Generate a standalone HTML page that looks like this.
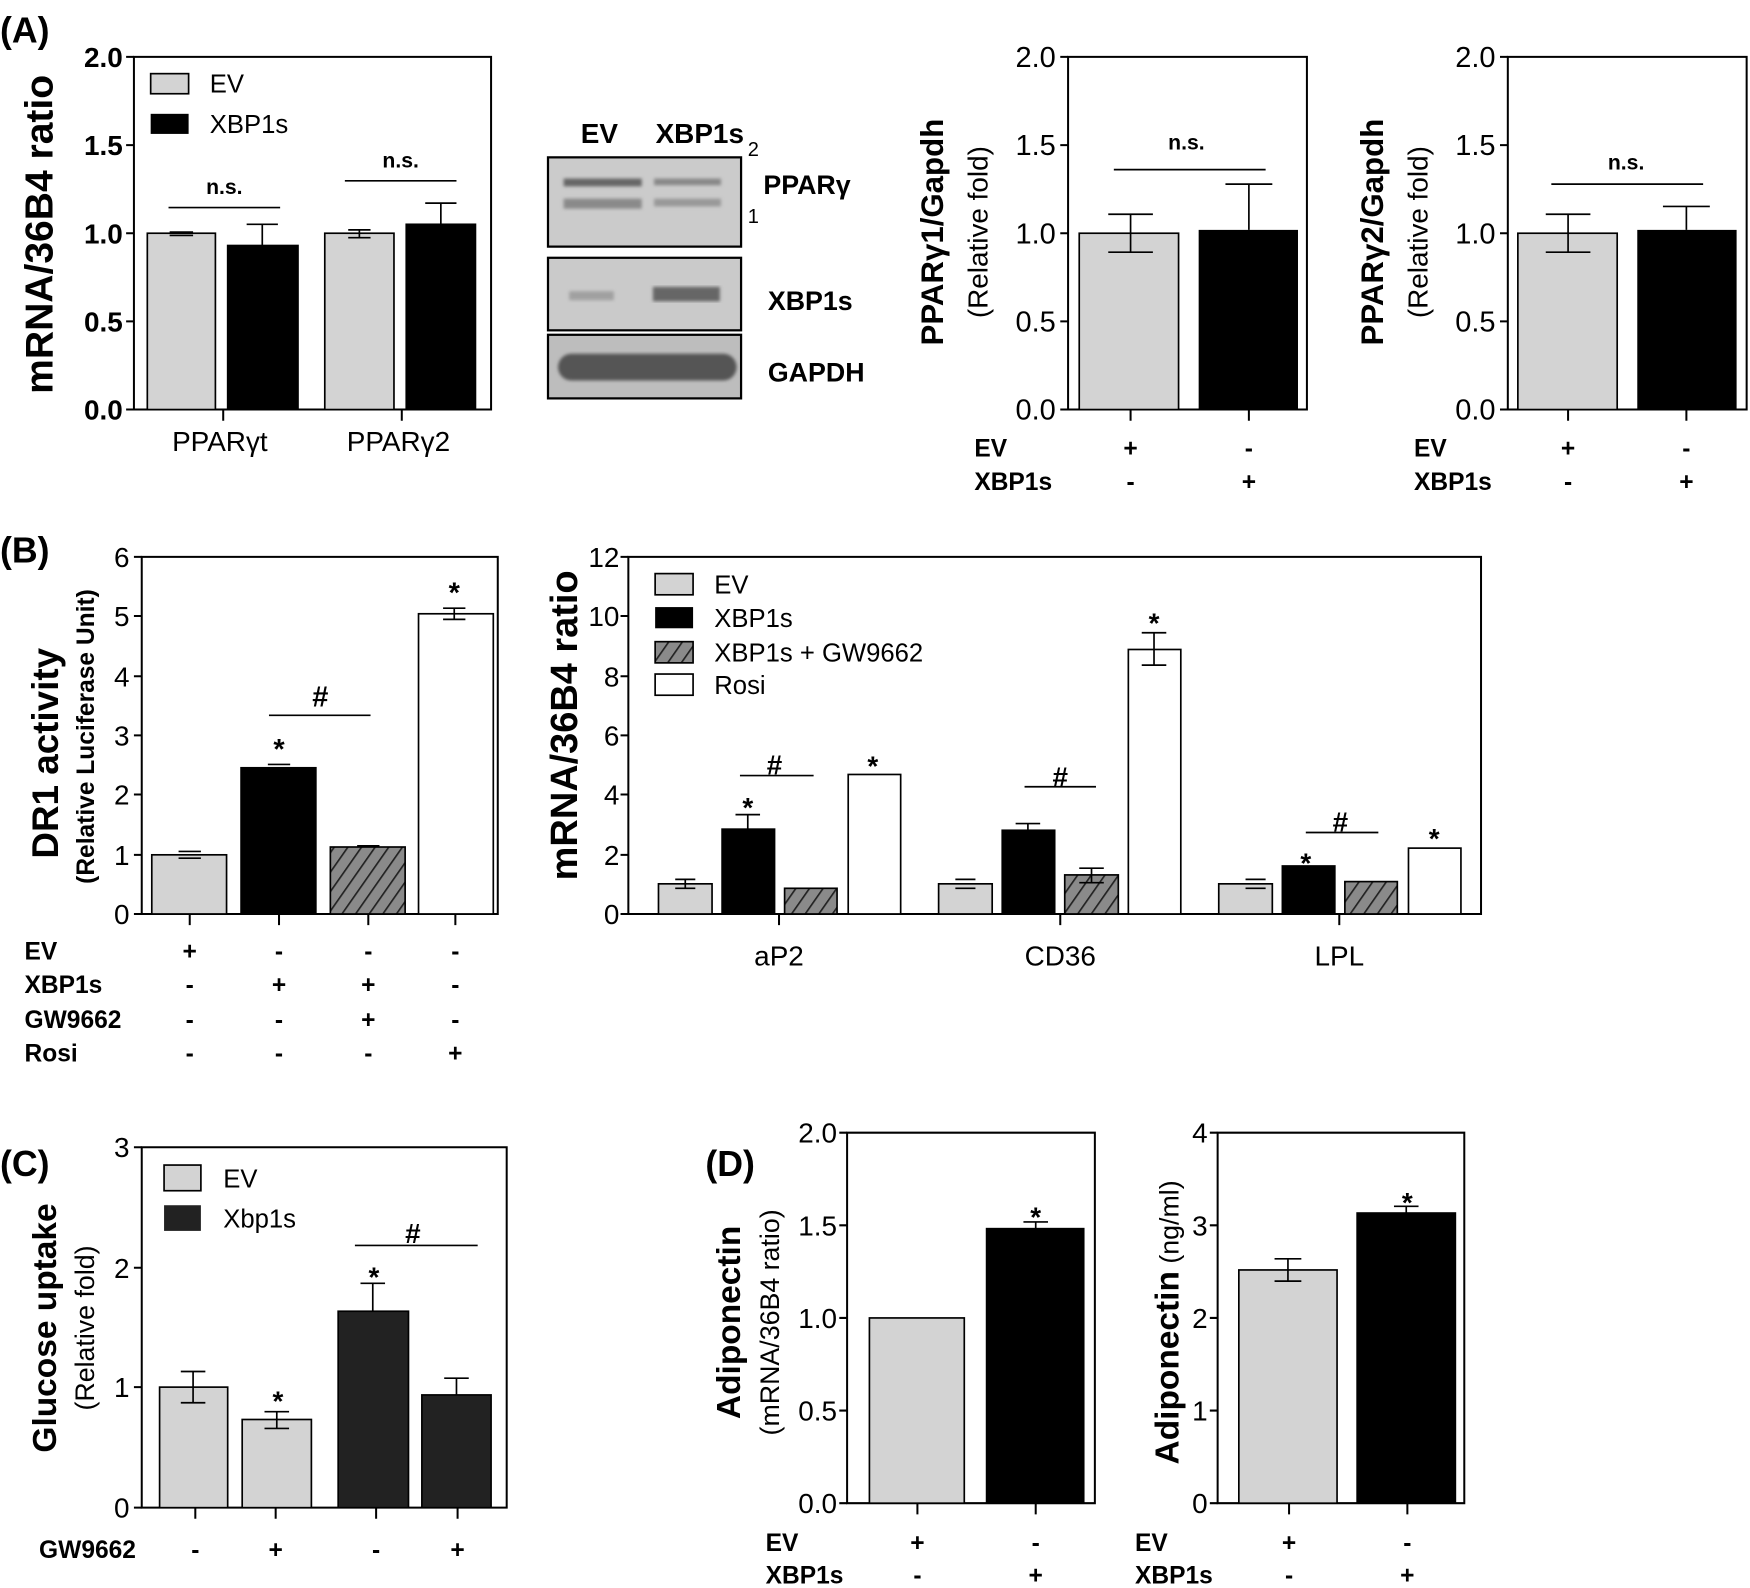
<!DOCTYPE html>
<html><head><meta charset="utf-8"><style>
html,body{margin:0;padding:0;background:#fff}
svg{display:block}
text{font-family:"Liberation Sans",Arial,sans-serif;fill:#000}
.t{font-size:22px}
.b{font-weight:bold}
</style></head><body>
<svg width="1750" height="1588" viewBox="0 0 1568 1423" preserveAspectRatio="none" xmlns="http://www.w3.org/2000/svg">
<defs>
<pattern id="h" patternUnits="userSpaceOnUse" width="10" height="10" patternTransform="rotate(35)">
<rect width="10" height="10" fill="#8a8a8a"/><line x1="0" y1="0" x2="0" y2="10" stroke="#222" stroke-width="3"/>
</pattern>
<filter id="bl"><feGaussianBlur stdDeviation="1.5"/></filter>
</defs>
<g stroke="#000" stroke-width="1.8" fill="none">
<path d="M120 51 V367 H440 V51 Z"/>
<path d="M113 51H120M113 130H120M113 209H120M113 288H120M113 367H120M200 367V377M360 367V377"/>
</g>
<text x="0" y="38" class="b" style="font-size:32px">(A)</text>
<g class="t" text-anchor="end" style="font-size:25px;font-weight:bold">
<text x="110" y="60">2.0</text><text x="110" y="139">1.5</text><text x="110" y="218">1.0</text><text x="110" y="297">0.5</text><text x="110" y="376">0.0</text>
</g>
<text transform="translate(47,210) rotate(-90)" text-anchor="middle" class="b" style="font-size:35px">mRNA/36B4 ratio</text>
<rect x="135" y="66" width="34" height="18" fill="#d3d3d3" stroke="#000" stroke-width="1.5"/>
<rect x="135" y="102" width="34" height="18" fill="#000"/>
<text x="188" y="83" style="font-size:23px">EV</text><text x="188" y="119" style="font-size:23px">XBP1s</text>
<g stroke="#000" stroke-width="1.5">
<rect x="132" y="209" width="61" height="158" fill="#d3d3d3"/>
<rect x="204" y="220" width="63" height="147" fill="#000"/>
<rect x="291" y="209" width="62" height="158" fill="#d3d3d3"/>
<rect x="364" y="201" width="62" height="166" fill="#000"/>
<path d="M152 208H173M152 211H173M235 220V201M221 201H249M312 206H332M312 213H332M322 206V213M395 201V182M381 182H409" fill="none"/>
<path d="M151 186H251M309 162H409" fill="none"/>
</g>
<text x="201" y="174" text-anchor="middle" class="b" style="font-size:19px">n.s.</text>
<text x="359" y="150" text-anchor="middle" class="b" style="font-size:19px">n.s.</text>
<text x="197" y="404" text-anchor="middle" style="font-size:25px">PPARγt</text>
<text x="357" y="404" text-anchor="middle" style="font-size:25px">PPARγ2</text>

<text x="537" y="128" text-anchor="middle" class="b" style="font-size:25px">EV</text>
<text x="627" y="128" text-anchor="middle" class="b" style="font-size:25px">XBP1s</text>
<rect x="491" y="141" width="173" height="80" fill="#cbcbcb" stroke="#000" stroke-width="2"/>
<g filter="url(#bl)">
<rect x="505" y="160" width="70" height="7" fill="#666"/><rect x="586" y="160" width="60" height="6" fill="#888"/>
<rect x="505" y="178" width="70" height="9" fill="#8a8a8a"/><rect x="586" y="178" width="60" height="7" fill="#999"/>
</g>
<rect x="491" y="231" width="173" height="65" fill="#cacaca" stroke="#000" stroke-width="2"/>
<g filter="url(#bl)"><rect x="510" y="261" width="40" height="8" fill="#a0a0a0"/><rect x="585" y="257" width="60" height="13" fill="#666"/></g>
<rect x="491" y="300" width="173" height="57" fill="#bdbdbd" stroke="#000" stroke-width="2"/>
<rect x="500" y="317" width="160" height="24" rx="12" fill="#555" filter="url(#bl)"/>
<text x="670" y="140" style="font-size:18px">2</text><text x="670" y="200" style="font-size:18px">1</text>
<text x="684" y="174" class="b" style="font-size:24px">PPARγ</text>
<text x="688" y="278" class="b" style="font-size:24px">XBP1s</text>
<text x="688" y="342" class="b" style="font-size:24px">GAPDH</text>

<g stroke="#000" stroke-width="1.8" fill="none">
<path d="M957 51V367H1171V51Z"/>
<path d="M950 51H957M950 130H957M950 209H957M950 288H957M950 367H957M1013 367V377M1119 367V377"/>
</g>
<g text-anchor="end" style="font-size:26px">
<text x="946" y="60">2.0</text><text x="946" y="139">1.5</text><text x="946" y="218">1.0</text><text x="946" y="297">0.5</text><text x="946" y="376">0.0</text>
</g>
<rect x="967" y="209" width="89" height="158" fill="#d3d3d3" stroke="#000" stroke-width="1.5"/>
<rect x="1074" y="206" width="89" height="161" fill="#000"/>
<g stroke="#000" stroke-width="1.5" fill="none"><path d="M1013 192V226M993 192H1033M993 226H1033M1119 206V165M1098 165H1140M998 152H1134"/></g>
<text x="1063" y="134" text-anchor="middle" class="b" style="font-size:19px">n.s.</text>
<text transform="translate(845,208) rotate(-90)" text-anchor="middle" class="b" style="font-size:28px">PPARγ1/Gapdh</text>
<text transform="translate(885,208) rotate(-90)" text-anchor="middle" style="font-size:25px">(Relative fold)</text>
<text x="873" y="409" class="b" style="font-size:22px">EV</text><text x="873" y="439" class="b" style="font-size:22px">XBP1s</text>
<text x="1013" y="409" text-anchor="middle" class="b" style="font-size:22px">+</text><text x="1119" y="409" text-anchor="middle" class="b" style="font-size:22px">-</text>
<text x="1013" y="439" text-anchor="middle" class="b" style="font-size:22px">-</text><text x="1119" y="439" text-anchor="middle" class="b" style="font-size:22px">+</text>

<g stroke="#000" stroke-width="1.8" fill="none">
<path d="M1351 51V367H1565V51Z"/>
<path d="M1344 51H1351M1344 130H1351M1344 209H1351M1344 288H1351M1344 367H1351M1405 367V377M1511 367V377"/>
</g>
<g text-anchor="end" style="font-size:26px">
<text x="1340" y="60">2.0</text><text x="1340" y="139">1.5</text><text x="1340" y="218">1.0</text><text x="1340" y="297">0.5</text><text x="1340" y="376">0.0</text>
</g>
<rect x="1360" y="209" width="89" height="158" fill="#d3d3d3" stroke="#000" stroke-width="1.5"/>
<rect x="1467" y="206" width="89" height="161" fill="#000"/>
<g stroke="#000" stroke-width="1.5" fill="none"><path d="M1405 192V226M1385 192H1425M1385 226H1425M1511 206V185M1490 185H1532M1390 165H1526"/></g>
<text x="1457" y="152" text-anchor="middle" class="b" style="font-size:19px">n.s.</text>
<text transform="translate(1239,208) rotate(-90)" text-anchor="middle" class="b" style="font-size:28px">PPARγ2/Gapdh</text>
<text transform="translate(1279,208) rotate(-90)" text-anchor="middle" style="font-size:25px">(Relative fold)</text>
<text x="1267" y="409" class="b" style="font-size:22px">EV</text><text x="1267" y="439" class="b" style="font-size:22px">XBP1s</text>
<text x="1405" y="409" text-anchor="middle" class="b" style="font-size:22px">+</text><text x="1511" y="409" text-anchor="middle" class="b" style="font-size:22px">-</text>
<text x="1405" y="439" text-anchor="middle" class="b" style="font-size:22px">-</text><text x="1511" y="439" text-anchor="middle" class="b" style="font-size:22px">+</text>

<text x="0" y="504" class="b" style="font-size:32px">(B)</text>
<g stroke="#000" stroke-width="1.8" fill="none">
<path d="M127 499V819H446V499Z"/>
<path d="M120 499H127M120 552H127M120 606H127M120 659H127M120 712H127M120 766H127M120 819H127M170 819V829M250 819V829M330 819V829M408 819V829"/>
</g>
<g text-anchor="end" style="font-size:25px">
<text x="116" y="508">6</text><text x="116" y="561">5</text><text x="116" y="615">4</text><text x="116" y="668">3</text><text x="116" y="721">2</text><text x="116" y="775">1</text><text x="116" y="828">0</text>
</g>
<text transform="translate(52,675) rotate(-90)" text-anchor="middle" class="b" style="font-size:33px">DR1 activity</text>
<text transform="translate(84,660) rotate(-90)" text-anchor="middle" class="b" style="font-size:22px">(Relative Luciferase Unit)</text>
<g stroke="#000" stroke-width="1.5">
<rect x="136" y="766" width="67" height="53" fill="#d3d3d3"/>
<rect x="216" y="688" width="67" height="131" fill="#000"/>
<rect x="296" y="759" width="67" height="60" fill="url(#h)"/>
<rect x="375" y="550" width="67" height="269" fill="#fff"/>
<path d="M160 763H180M160 769H180M240 685H260M240 692H260M320 758H340M397 545H417M397 555H417M407 545V555M241 641H332" fill="none"/>
</g>
<g text-anchor="middle" style="font-size:26px" class="b">
<text x="287" y="633">#</text><text x="250" y="680">*</text><text x="407" y="540">*</text>
</g>
<g class="b" style="font-size:22px">
<text x="22" y="860">EV</text><text x="22" y="890">XBP1s</text><text x="22" y="921">GW9662</text><text x="22" y="951">Rosi</text>
</g>
<g class="b" text-anchor="middle" style="font-size:22px">
<text x="170" y="860">+</text><text x="250" y="860">-</text><text x="330" y="860">-</text><text x="408" y="860">-</text>
<text x="170" y="890">-</text><text x="250" y="890">+</text><text x="330" y="890">+</text><text x="408" y="890">-</text>
<text x="170" y="921">-</text><text x="250" y="921">-</text><text x="330" y="921">+</text><text x="408" y="921">-</text>
<text x="170" y="951">-</text><text x="250" y="951">-</text><text x="330" y="951">-</text><text x="408" y="951">+</text>
</g>

<g stroke="#000" stroke-width="1.8" fill="none">
<path d="M563 499V819H1327V499Z"/>
<path d="M556 499H563M556 552H563M556 606H563M556 659H563M556 712H563M556 766H563M556 819H563M698 819V829M950 819V829M1200 819V829"/>
</g>
<g text-anchor="end" style="font-size:25px">
<text x="555" y="508">12</text><text x="555" y="561">10</text><text x="555" y="615">8</text><text x="555" y="668">6</text><text x="555" y="721">4</text><text x="555" y="775">2</text><text x="555" y="828">0</text>
</g>
<text transform="translate(517,650) rotate(-90)" text-anchor="middle" class="b" style="font-size:34px">mRNA/36B4 ratio</text>
<rect x="587" y="514" width="34" height="19" fill="#d3d3d3" stroke="#000" stroke-width="1.5"/>
<rect x="587" y="544" width="34" height="19" fill="#000"/>
<rect x="587" y="575" width="34" height="19" fill="url(#h)" stroke="#000" stroke-width="1.5"/>
<rect x="587" y="604" width="34" height="19" fill="#fff" stroke="#000" stroke-width="1.5"/>
<g style="font-size:23px"><text x="640" y="532">EV</text><text x="640" y="562">XBP1s</text><text x="640" y="593">XBP1s + GW9662</text><text x="640" y="622">Rosi</text></g>
<g stroke="#000" stroke-width="1.5">
<rect x="590" y="792" width="48" height="27" fill="#d3d3d3"/>
<rect x="647" y="743" width="47" height="76" fill="#000"/>
<rect x="703" y="796" width="47" height="23" fill="url(#h)"/>
<rect x="760" y="694" width="47" height="125" fill="#fff"/>
<rect x="841" y="792" width="48" height="27" fill="#d3d3d3"/>
<rect x="898" y="744" width="47" height="75" fill="#000"/>
<rect x="954" y="784" width="48" height="35" fill="url(#h)"/>
<rect x="1011" y="582" width="47" height="237" fill="#fff"/>
<rect x="1092" y="792" width="48" height="27" fill="#d3d3d3"/>
<rect x="1149" y="776" width="47" height="43" fill="#000"/>
<rect x="1205" y="790" width="47" height="29" fill="url(#h)"/>
<rect x="1262" y="760" width="47" height="59" fill="#fff"/>
<path d="M605 788H623M605 796H623M614 788V796M670 743V730M659 730H681M1116 788H1134M1116 796H1134M856 788H874M856 796H874M921 744V738M910 738H932M978 791V778M967 778H989M967 791H989M1034 596V567M1023 567H1045M1023 596H1045M663 695H729M918 705H982M1170 746H1235" fill="none"/>
</g>
<g text-anchor="middle" style="font-size:25px" class="b">
<text x="694" y="694">#</text><text x="950" y="705">#</text><text x="1201" y="745">#</text>
<text x="670" y="732">*</text><text x="782" y="695">*</text><text x="921" y="764">*</text><text x="1034" y="567">*</text><text x="1170" y="782">*</text><text x="1285" y="760">*</text>
</g>
<g text-anchor="middle" style="font-size:25px"><text x="698" y="865">aP2</text><text x="950" y="865">CD36</text><text x="1200" y="865">LPL</text></g>

<text x="0" y="1054" class="b" style="font-size:32px">(C)</text>
<g stroke="#000" stroke-width="1.8" fill="none">
<path d="M127 1028V1351H454V1028Z"/>
<path d="M120 1028H127M120 1136H127M120 1243H127M120 1351H127M175 1351V1361M247 1351V1361M337 1351V1361M410 1351V1361"/>
</g>
<g text-anchor="end" style="font-size:25px">
<text x="116" y="1037">3</text><text x="116" y="1145">2</text><text x="116" y="1252">1</text><text x="116" y="1360">0</text>
</g>
<text transform="translate(50,1190) rotate(-90)" text-anchor="middle" class="b" style="font-size:30px">Glucose uptake</text>
<text transform="translate(84,1190) rotate(-90)" text-anchor="middle" style="font-size:24px">(Relative fold)</text>
<rect x="147" y="1044" width="33" height="23" fill="#d3d3d3" stroke="#000" stroke-width="1.5"/>
<rect x="147" y="1080" width="33" height="23" fill="#222"/>
<text x="200" y="1064" style="font-size:23px">EV</text><text x="200" y="1100" style="font-size:23px">Xbp1s</text>
<g stroke="#000" stroke-width="1.5">
<rect x="143" y="1243" width="61" height="108" fill="#d3d3d3"/>
<rect x="217" y="1272" width="62" height="79" fill="#d3d3d3"/>
<rect x="303" y="1175" width="63" height="176" fill="#222"/>
<rect x="378" y="1250" width="62" height="101" fill="#222"/>
<path d="M173 1229V1257M162 1229H184M162 1257H184M248 1265V1280M237 1265H259M237 1280H259M334 1175V1150M323 1150H345M409 1250V1235M398 1235H420M318 1116H428" fill="none"/>
</g>
<g text-anchor="middle" style="font-size:25px" class="b">
<text x="370" y="1114">#</text><text x="249" y="1264">*</text><text x="335" y="1153">*</text>
</g>
<text x="35" y="1396" class="b" style="font-size:22px">GW9662</text>
<g class="b" text-anchor="middle" style="font-size:22px"><text x="175" y="1396">-</text><text x="247" y="1396">+</text><text x="337" y="1396">-</text><text x="410" y="1396">+</text></g>

<text x="632" y="1054" class="b" style="font-size:32px">(D)</text>
<g stroke="#000" stroke-width="1.8" fill="none">
<path d="M759 1015V1347H981V1015Z"/>
<path d="M752 1015H759M752 1098H759M752 1181H759M752 1264H759M752 1347H759M822 1347V1357M928 1347V1357"/>
<path d="M1091 1015V1347H1312V1015Z"/>
<path d="M1084 1015H1091M1084 1098H1091M1084 1181H1091M1084 1264H1091M1084 1347H1091M1155 1347V1357M1261 1347V1357"/>
</g>
<g text-anchor="end" style="font-size:25px">
<text x="750" y="1024">2.0</text><text x="750" y="1107">1.5</text><text x="750" y="1190">1.0</text><text x="750" y="1273">0.5</text><text x="750" y="1356">0.0</text>
<text x="1082" y="1024">4</text><text x="1082" y="1107">3</text><text x="1082" y="1190">2</text><text x="1082" y="1273">1</text><text x="1082" y="1356">0</text>
</g>
<text transform="translate(663,1185) rotate(-90)" text-anchor="middle" class="b" style="font-size:30px">Adiponectin</text>
<text transform="translate(698,1185) rotate(-90)" text-anchor="middle" style="font-size:24px">(mRNA/36B4 ratio)</text>
<text transform="translate(1056,1185) rotate(-90)" text-anchor="middle" style="font-size:30px"><tspan class="b">Adiponectin</tspan><tspan style="font-size:24px"> (ng/ml)</tspan></text>
<g stroke="#000" stroke-width="1.5">
<rect x="779" y="1181" width="85" height="166" fill="#d3d3d3"/>
<rect x="884" y="1101" width="87" height="246" fill="#000"/>
<rect x="1110" y="1138" width="88" height="209" fill="#d3d3d3"/>
<rect x="1216" y="1087" width="88" height="260" fill="#000"/>
<path d="M928 1101V1095M917 1095H939M1154 1128V1148M1142 1128H1166M1142 1148H1166M1260 1087V1081M1249 1081H1271" fill="none"/>
</g>
<g text-anchor="middle" style="font-size:25px" class="b"><text x="928" y="1099">*</text><text x="1261" y="1086">*</text></g>
<g class="b" style="font-size:22px">
<text x="686" y="1390">EV</text><text x="686" y="1419">XBP1s</text>
<text x="1017" y="1390">EV</text><text x="1017" y="1419">XBP1s</text>
</g>
<g class="b" text-anchor="middle" style="font-size:22px">
<text x="822" y="1390">+</text><text x="928" y="1390">-</text><text x="822" y="1419">-</text><text x="928" y="1419">+</text>
<text x="1155" y="1390">+</text><text x="1261" y="1390">-</text><text x="1155" y="1419">-</text><text x="1261" y="1419">+</text>
</g>
</svg>
</body></html>
